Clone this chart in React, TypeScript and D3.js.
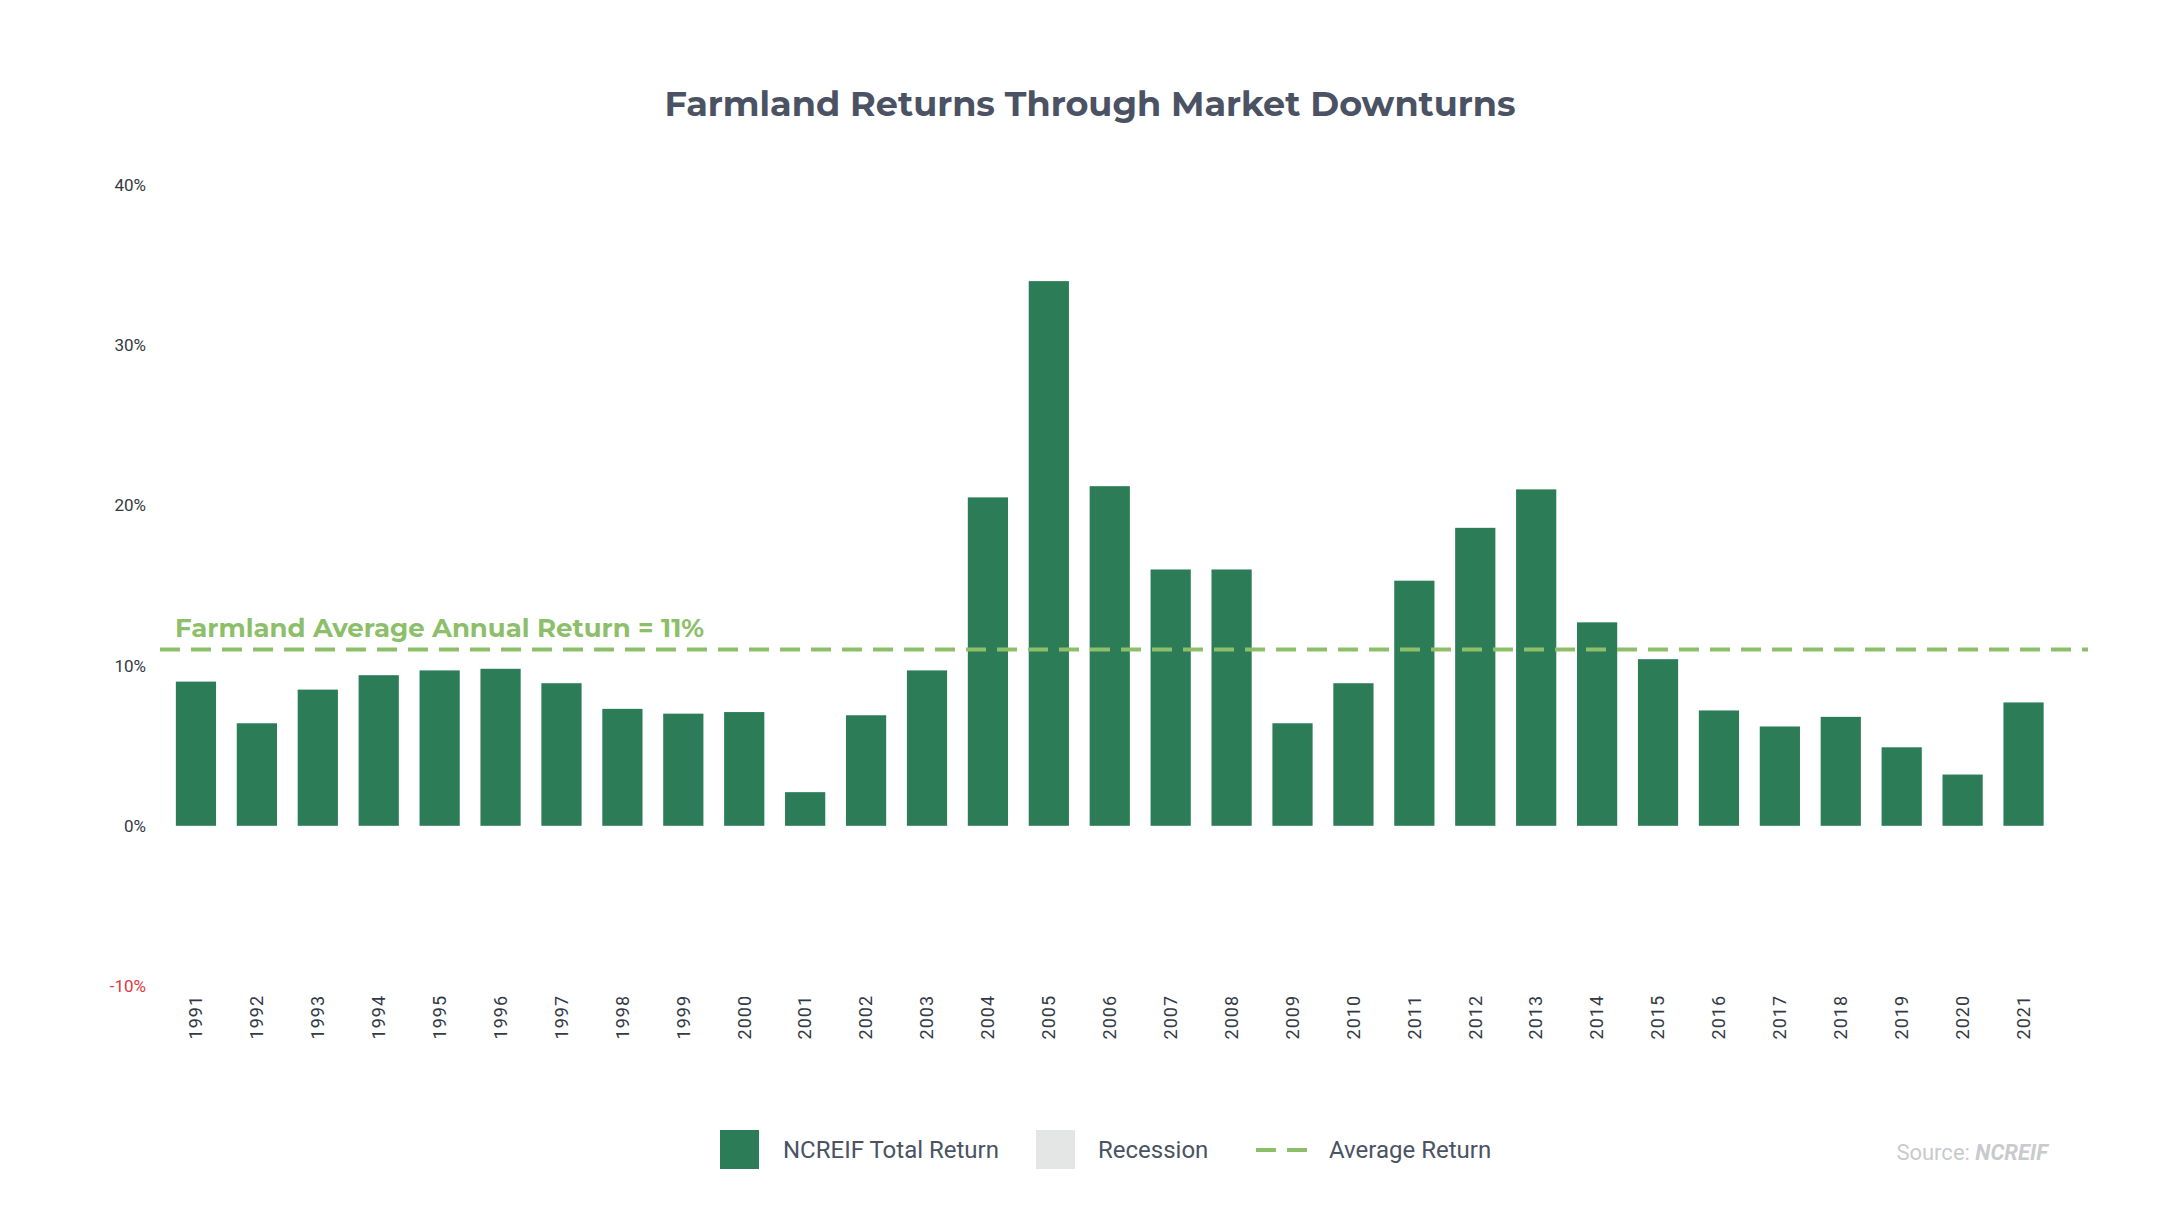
import React from "react";
import { scaleBand, scaleLinear } from "d3";

const years = [
  "1991", "1992", "1993", "1994", "1995", "1996", "1997", "1998", "1999", "2000",
  "2001", "2002", "2003", "2004", "2005", "2006", "2007", "2008", "2009", "2010",
  "2011", "2012", "2013", "2014", "2015", "2016", "2017", "2018", "2019", "2020", "2021",
];
const totalReturn = [
  9.0, 6.4, 8.5, 9.4, 9.7, 9.8, 8.9, 7.3, 7.0, 7.1,
  2.1, 6.9, 9.7, 20.5, 34.0, 21.2, 16.0, 16.0, 6.4, 8.9,
  15.3, 18.6, 21.0, 12.7, 10.4, 7.2, 6.2, 6.8, 4.9, 3.2, 7.7,
];
const yTicks = [-10, 0, 10, 20, 30, 40];
const averageReturn = 11;

const W = 2172;
const H = 1222;
const font = "Roboto, 'Open Sans', sans-serif";
const titleFont = "Montserrat, 'Open Sans', Lato, sans-serif";

export default function App() {
  const x = scaleBand<string>().domain(years).range([165.5, 2054]).paddingInner(0.34).paddingOuter(0.17);
  const y = scaleLinear().domain([-10, 40]).range([986, 185]);

  return (
    <svg width={W} height={H} style={{ position: "absolute", left: 0, top: 0, background: "#fff" }}>
      <text x={1090} y={116} textAnchor="middle" fontFamily={titleFont} fontWeight={700} fontSize={35} fill="#4a5263">
        Farmland Returns Through Market Downturns
      </text>

      {/* Y axis */}
      {yTicks.map((t) => (
        <text key={t} x={146} y={y(t)} dy="0.35em" textAnchor="end" fontFamily={font} fontSize={17}
          fill={t < 0 ? "#e0393e" : "#333a45"}>
          {t}%
        </text>
      ))}

      {/* Bars */}
      {years.map((yr, i) => (
        <rect key={yr} x={x(yr)} width={x.bandwidth()} y={y(totalReturn[i])}
          height={y(0) - y(totalReturn[i])} fill="#2b7c57" />
      ))}

      {/* Average line */}
      <line x1={160} x2={2088} y1={y(averageReturn)} y2={y(averageReturn)} stroke="#8dbf6a"
        strokeWidth={4} strokeDasharray="20,11" />
      <text x={175} y={y(averageReturn) - 13} fontFamily={titleFont} fontWeight={700} fontSize={26} fill="#8dbf6a">
        Farmland Average Annual Return = 11%
      </text>

      {/* X labels */}
      {years.map((yr) => (
        <text key={yr} transform={`translate(${x(yr)! + x.bandwidth() / 2},995) rotate(-90)`}
          textAnchor="end" dy="0.35em" fontFamily={font} fontSize={18} letterSpacing={1} fill="#333a45">
          {yr}
        </text>
      ))}

      {/* Legend */}
      <rect x={720} y={1130} width={39} height={39} fill="#2b7c57" />
      <text x={783} y={1150} dy="0.35em" fontFamily={font} fontSize={24} fill="#4a5263">NCREIF Total Return</text>
      <rect x={1036} y={1130} width={39} height={39} fill="#e4e5e5" />
      <text x={1098} y={1150} dy="0.35em" fontFamily={font} fontSize={24} fill="#4a5263">Recession</text>
      <line x1={1256} x2={1311} y1={1150} y2={1150} stroke="#8dbf6a" strokeWidth={4} strokeDasharray="20,11" />
      <text x={1329} y={1150} dy="0.35em" fontFamily={font} fontSize={24} fill="#4a5263">Average Return</text>

      <text x={2048} y={1152} dy="0.35em" textAnchor="end" fontFamily={font} fontSize={22} fill="#c9cacc">
        Source: <tspan fontWeight={700} fontStyle="italic">NCREIF</tspan>
      </text>
    </svg>
  );
}
